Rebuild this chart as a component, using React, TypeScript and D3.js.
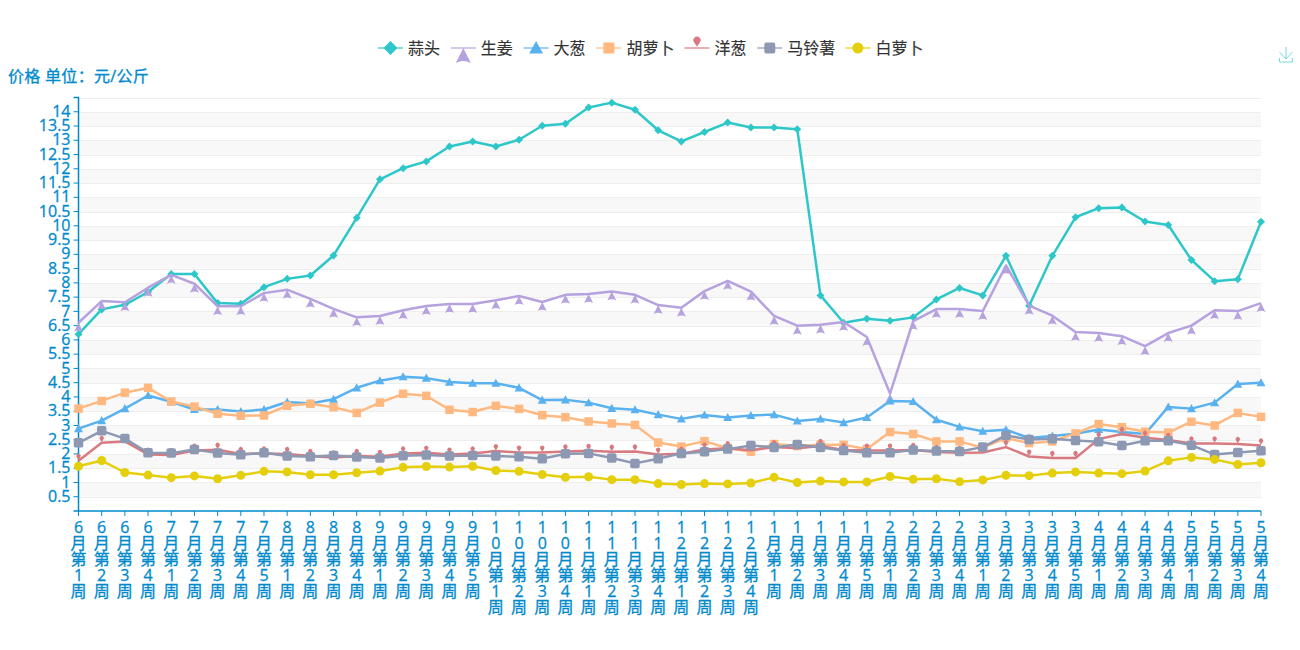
import React, { useEffect, useRef } from "react";
import * as d3 from "d3";

const weeks = [
  "6月第1周", "6月第2周", "6月第3周", "6月第4周",
  "7月第1周", "7月第2周", "7月第3周", "7月第4周", "7月第5周",
  "8月第1周", "8月第2周", "8月第3周", "8月第4周",
  "9月第1周", "9月第2周", "9月第3周", "9月第4周", "9月第5周",
  "10月第1周", "10月第2周", "10月第3周", "10月第4周",
  "11月第1周", "11月第2周", "11月第3周", "11月第4周",
  "12月第1周", "12月第2周", "12月第3周", "12月第4周",
  "1月第1周", "1月第2周", "1月第3周", "1月第4周", "1月第5周",
  "2月第1周", "2月第2周", "2月第3周", "2月第4周",
  "3月第1周", "3月第2周", "3月第3周", "3月第4周", "3月第5周",
  "4月第1周", "4月第2周", "4月第3周", "4月第4周",
  "5月第1周", "5月第2周", "5月第3周", "5月第4周",
];

const yTicks = [0.5, 1, 1.5, 2, 2.5, 3, 3.5, 4, 4.5, 5, 5.5, 6, 6.5, 7, 7.5, 8, 8.5, 9, 9.5, 10, 10.5, 11, 11.5, 12, 12.5, 13, 13.5, 14];

const garlic = [6.2, 7.07, 7.23, 7.68, 8.31, 8.31, 7.29, 7.27, 7.85, 8.14, 8.26, 8.96, 10.28, 11.63, 12.02, 12.26, 12.78, 12.96, 12.78, 13.02, 13.51, 13.58, 14.15, 14.32, 14.07, 13.35, 12.96, 13.29, 13.62, 13.45, 13.45, 13.39, 7.56, 6.6, 6.74, 6.67, 6.79, 7.42, 7.82, 7.56, 8.95, 7.2, 8.95, 10.3, 10.62, 10.64, 10.15, 10.03, 8.8, 8.06, 8.13, 10.14];
const ginger = [6.6, 7.36, 7.32, 7.83, 8.28, 7.97, 7.18, 7.18, 7.64, 7.76, 7.44, 7.09, 6.79, 6.84, 7.04, 7.19, 7.26, 7.26, 7.39, 7.54, 7.33, 7.58, 7.61, 7.7, 7.58, 7.22, 7.13, 7.71, 8.07, 7.69, 6.84, 6.5, 6.53, 6.63, 6.1, 4.12, 6.66, 7.08, 7.08, 7.01, 8.61, 7.2, 6.85, 6.28, 6.24, 6.13, 5.78, 6.24, 6.5, 7.04, 7.01, 7.29];
const scallion = [2.89, 3.17, 3.59, 4.05, 3.83, 3.56, 3.56, 3.49, 3.56, 3.82, 3.77, 3.92, 4.32, 4.57, 4.71, 4.66, 4.52, 4.48, 4.48, 4.32, 3.89, 3.9, 3.8, 3.6, 3.55, 3.38, 3.23, 3.37, 3.28, 3.35, 3.38, 3.16, 3.23, 3.1, 3.28, 3.86, 3.84, 3.2, 2.95, 2.8, 2.85, 2.56, 2.63, 2.71, 2.86, 2.77, 2.7, 3.65, 3.59, 3.8, 4.45, 4.5];
const carrot = [3.59, 3.86, 4.15, 4.32, 3.84, 3.66, 3.41, 3.34, 3.35, 3.69, 3.76, 3.64, 3.44, 3.8, 4.11, 4.04, 3.55, 3.47, 3.69, 3.58, 3.36, 3.29, 3.14, 3.07, 3.02, 2.4, 2.26, 2.45, 2.2, 2.08, 2.35, 2.28, 2.32, 2.32, 2.17, 2.77, 2.7, 2.44, 2.44, 2.22, 2.56, 2.38, 2.44, 2.72, 3.05, 2.94, 2.78, 2.75, 3.13, 3.0, 3.44, 3.3];
const onion = [1.76, 2.39, 2.44, 1.98, 1.96, 2.12, 2.15, 2.0, 2.02, 2.0, 1.93, 1.88, 1.93, 1.9, 2.02, 2.04, 1.98, 2.02, 2.1, 2.05, 2.05, 2.09, 2.11, 2.08, 2.09, 1.98, 2.01, 2.16, 2.2, 2.13, 2.24, 2.2, 2.28, 2.14, 2.12, 2.12, 2.14, 2.07, 2.04, 2.05, 2.24, 1.91, 1.86, 1.86, 2.52, 2.7, 2.57, 2.49, 2.37, 2.37, 2.35, 2.3];
const potato = [2.39, 2.81, 2.54, 2.04, 2.03, 2.16, 2.03, 1.97, 2.04, 1.93, 1.9, 1.95, 1.89, 1.86, 1.94, 1.96, 1.93, 1.95, 1.93, 1.9, 1.83, 2.01, 2.02, 1.86, 1.67, 1.83, 2.02, 2.08, 2.17, 2.3, 2.23, 2.33, 2.23, 2.12, 2.04, 2.04, 2.14, 2.1, 2.09, 2.24, 2.65, 2.51, 2.53, 2.47, 2.43, 2.3, 2.46, 2.46, 2.31, 1.98, 2.05, 2.11];
const radish = [1.57, 1.77, 1.35, 1.26, 1.17, 1.23, 1.13, 1.25, 1.39, 1.37, 1.27, 1.27, 1.34, 1.4, 1.53, 1.56, 1.54, 1.57, 1.42, 1.39, 1.28, 1.18, 1.2, 1.1, 1.1, 0.96, 0.93, 0.96, 0.95, 0.98, 1.18, 1.0, 1.05, 1.02, 1.02, 1.21, 1.11, 1.13, 1.03, 1.09, 1.25, 1.24, 1.33, 1.37, 1.33, 1.31, 1.4, 1.76, 1.88, 1.81, 1.63, 1.69];

type Shape = "diamond" | "triangleDown" | "triangle" | "square" | "pin" | "roundRect" | "circle";

const seriesList: { name: string; color: string; shape: Shape; values: number[] }[] = [
  { name: "蒜头", color: "#2ec7c9", shape: "diamond", values: garlic },
  { name: "生姜", color: "#b6a2de", shape: "triangleDown", values: ginger },
  { name: "大葱", color: "#5ab1ef", shape: "triangle", values: scallion },
  { name: "胡萝卜", color: "#ffb980", shape: "square", values: carrot },
  { name: "洋葱", color: "#d87a80", shape: "pin", values: onion },
  { name: "马铃薯", color: "#8d98b3", shape: "roundRect", values: potato },
  { name: "白萝卜", color: "#e5cf0d", shape: "circle", values: radish },
];

const AXIS = "#008acd";
const FONT = '"Open Sans", "Noto Sans CJK SC", sans-serif';

// s is the nominal symbol size, the marker is centred on (0,0) unless the
// original offsets it (ginger hangs below the line, onion pins sit above it)
function symbolPath(shape: Shape, s: number): string {
  const h = s / 2;
  const p = d3.path();
  switch (shape) {
    case "diamond":
      p.moveTo(0, -h); p.lineTo(h, 0); p.lineTo(0, h); p.lineTo(-h, 0); p.closePath();
      break;
    case "triangle":
      p.moveTo(0, -h); p.lineTo(h, h * 0.8); p.lineTo(-h, h * 0.8); p.closePath();
      break;
    case "triangleDown":
      p.moveTo(0, 0); p.lineTo(h, s); p.quadraticCurveTo(0, s * 0.72, -h, s); p.closePath();
      break;
    case "square":
      p.rect(-h, -h, s, s);
      break;
    case "roundRect": {
      const r = s * 0.2;
      p.moveTo(-h + r, -h);
      p.arcTo(h, -h, h, h, r); p.arcTo(h, h, -h, h, r); p.arcTo(-h, h, -h, -h, r); p.arcTo(-h, -h, h, -h, r);
      p.closePath();
      break;
    }
    case "pin": {
      const r = s * 0.28;
      const cy = -s * 0.6;
      p.arc(0, cy, r, Math.PI * 0.8, Math.PI * 0.2);
      p.lineTo(0, -s * 0.1);
      p.closePath();
      break;
    }
    default:
      p.arc(0, 0, h, 0, Math.PI * 2);
  }
  return p.toString();
}

const plotSize: Record<Shape, number> = { diamond: 8, triangleDown: 9, triangle: 9, square: 8.5, pin: 8, roundRect: 9.5, circle: 9 };
const legendSize: Record<Shape, number> = { diamond: 14, triangleDown: 15, triangle: 14, square: 11, pin: 13, roundRect: 11, circle: 11 };

const App: React.FC = () => {
  const svgRef = useRef<SVGSVGElement | null>(null);

  useEffect(() => {
    if (!svgRef.current) return;
    const svg = d3.select(svgRef.current);
    svg.selectAll("*").remove();

    const left = 78.5, right = 1261, top = 97.5, bottom = 511;

    const x = d3.scalePoint<string>().domain(weeks).range([left, right]);
    const y = d3.scaleLinear().domain([0, 14.5]).range([bottom, top]);

    // alternating split areas and split lines
    const bandEdges = [0, ...yTicks, 14.5];
    svg.append("g").selectAll("rect")
      .data(d3.pairs(bandEdges))
      .join("rect")
      .attr("x", left)
      .attr("width", right - left)
      .attr("y", (d) => y(d[1]))
      .attr("height", (d) => y(d[0]) - y(d[1]))
      .attr("fill", (_, i) => (i % 2 === 1 ? "#f8f8f8" : "#ffffff"));

    svg.append("g").selectAll("line")
      .data(bandEdges.slice(1))
      .join("line")
      .attr("x1", left)
      .attr("x2", right)
      .attr("y1", (d) => Math.round(y(d)) + 0.5)
      .attr("y2", (d) => Math.round(y(d)) + 0.5)
      .attr("stroke", "#eeeeee");

    // y axis
    const yAxis = svg.append("g")
      .attr("transform", `translate(${left},0)`)
      .call(d3.axisLeft(y).offset(0).tickValues(yTicks).tickSize(5).tickPadding(3).tickFormat((d) => String(d)));
    yAxis.selectAll("text")
      .attr("fill", AXIS)
      .attr("stroke", AXIS)
      .attr("stroke-width", 0.3)
      .style("font-size", "16px")
      .style("font-family", FONT);
    yAxis.selectAll("line").attr("stroke", AXIS);
    yAxis.select(".domain").attr("stroke", AXIS).attr("stroke-width", 1.5);

    // x axis, labels are stacked one character per line
    const xAxis = svg.append("g")
      .attr("transform", `translate(0,${bottom})`)
      .call(d3.axisBottom(x).offset(0).tickSize(5).tickSizeOuter(0));
    xAxis.selectAll("line").attr("stroke", AXIS);
    xAxis.select(".domain").attr("stroke", AXIS).attr("stroke-width", 1.5);
    xAxis.selectAll<SVGTextElement, string>("text")
      .attr("fill", AXIS)
      .attr("stroke", AXIS)
      .attr("stroke-width", 0.3)
      .attr("y", 0)
      .attr("dy", null)
      .style("font-size", "16px")
      .style("font-family", FONT)
      .text(null)
      .selectAll("tspan")
      .data((d) => Array.from(d))
      .join("tspan")
      .attr("x", 0)
      .attr("y", (_, i) => 22 + i * 16)
      .text((d) => d);

    svg.append("text")
      .attr("x", 8)
      .attr("y", 82)
      .attr("fill", AXIS)
      .attr("stroke", AXIS)
      .attr("stroke-width", 0.3)
      .style("font-size", "16px")
      .style("letter-spacing", "0.3px")
      .style("font-family", FONT)
      .text("价格 单位：元/公斤");

    // series
    const line = d3.line<number>()
      .x((_, i) => x(weeks[i]) as number)
      .y((d) => y(d));

    seriesList.forEach((s) => {
      const g = svg.append("g");
      g.append("path")
        .attr("d", line(s.values))
        .attr("fill", "none")
        .attr("stroke", s.color)
        .attr("stroke-width", 2.5)
        .attr("stroke-linejoin", "round");
      g.selectAll("path.mark")
        .data(s.values)
        .join("path")
        .attr("class", "mark")
        .attr("d", symbolPath(s.shape, plotSize[s.shape]))
        .attr("fill", s.color)
        .attr("transform", (d, i) => `translate(${x(weeks[i])},${y(d)})`);
    });

    // legend
    let lx = 378;
    const ly = 48;
    seriesList.forEach((s) => {
      const item = svg.append("g").attr("transform", `translate(${lx},${ly})`);
      item.append("line").attr("x1", 0).attr("x2", 25).attr("stroke", s.color).attr("stroke-width", 1.2);
      item.append("path")
        .attr("d", symbolPath(s.shape, legendSize[s.shape]))
        .attr("fill", s.color)
        .attr("transform", "translate(12.5,0)");
      item.append("text")
        .attr("x", 30)
        .attr("y", 6)
        .attr("fill", "#333333")
        .attr("stroke", "#333333")
        .attr("stroke-width", 0.15)
        .style("font-size", "16px")
        .style("font-family", FONT)
        .text(s.name);
      lx += s.name.length * 15.3 + 42.2;
    });

    // save-as-image icon
    svg.append("path")
      .attr("d", "M1286 47V59M1279.5 52L1286 59L1292.5 52M1279.5 58V62H1292.5V58")
      .attr("fill", "none")
      .attr("stroke", "#2ec7c9")
      .attr("stroke-opacity", 0.65)
      .attr("stroke-width", 1);
  }, []);

  return <svg ref={svgRef} width={1300} height={650} style={{ position: "absolute", left: 0, top: 0, background: "#fff" }}></svg>;
};

export default App;
